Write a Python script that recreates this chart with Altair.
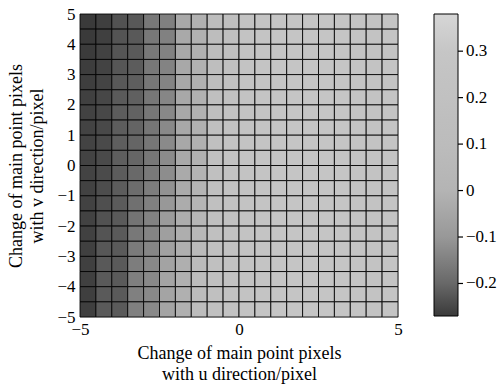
import altair as alt
import pandas as pd

# Grid edges (u: horizontal, v: vertical), 20 x 20 cells of 0.5 pixel
u_edges = [-5.0, -4.5, -4.0, -3.5, -3.0, -2.5, -2.0, -1.5, -1.0, -0.5, 0.0,
           0.5, 1.0, 1.5, 2.0, 2.5, 3.0, 3.5, 4.0, 4.5, 5.0]
v_edges = [5.0, 4.5, 4.0, 3.5, 3.0, 2.5, 2.0, 1.5, 1.0, 0.5, 0.0,
           -0.5, -1.0, -1.5, -2.0, -2.5, -3.0, -3.5, -4.0, -4.5, -5.0]

# Cell values, rows from top (v=5) to bottom (v=-5); first 10 columns read per row
left_cols = [
    [-0.270, -0.262, -0.232, -0.224, -0.165, -0.150, -0.040, -0.012, 0.12, 0.17],
    [-0.270, -0.260, -0.230, -0.222, -0.165, -0.148, -0.040, -0.012, 0.12, 0.17],
    [-0.268, -0.258, -0.228, -0.220, -0.166, -0.146, -0.041, -0.012, 0.13, 0.18],
    [-0.266, -0.256, -0.226, -0.218, -0.166, -0.143, -0.041, -0.011, 0.14, 0.19],
    [-0.264, -0.254, -0.223, -0.215, -0.167, -0.140, -0.042, -0.011, 0.15, 0.20],
    [-0.260, -0.250, -0.220, -0.212, -0.168, -0.136, -0.042, -0.010, 0.16, 0.21],
    [-0.258, -0.248, -0.218, -0.209, -0.169, -0.133, -0.043, -0.010, 0.17, 0.22],
    [-0.256, -0.246, -0.216, -0.206, -0.170, -0.130, -0.043, -0.010, 0.18, 0.23],
    [-0.255, -0.245, -0.215, -0.205, -0.170, -0.129, -0.043, -0.010, 0.18, 0.24],
    [-0.255, -0.245, -0.215, -0.203, -0.168, -0.127, -0.040, -0.010, 0.18, 0.24],
    [-0.256, -0.243, -0.217, -0.198, -0.163, -0.122, -0.036, -0.005, 0.18, 0.24],
    [-0.257, -0.240, -0.218, -0.190, -0.156, -0.112, -0.032, 0.000, 0.18, 0.24],
    [-0.258, -0.237, -0.219, -0.182, -0.150, -0.100, -0.028, 0.010, 0.18, 0.23],
    [-0.258, -0.233, -0.220, -0.174, -0.145, -0.088, -0.024, 0.030, 0.18, 0.23],
    [-0.259, -0.229, -0.220, -0.166, -0.140, -0.076, -0.020, 0.050, 0.18, 0.22],
    [-0.260, -0.225, -0.221, -0.160, -0.136, -0.066, -0.018, 0.070, 0.18, 0.22],
    [-0.260, -0.222, -0.221, -0.155, -0.133, -0.060, -0.016, 0.085, 0.18, 0.22],
    [-0.261, -0.221, -0.221, -0.152, -0.131, -0.057, -0.015, 0.095, 0.18, 0.22],
    [-0.262, -0.220, -0.221, -0.150, -0.130, -0.055, -0.015, 0.100, 0.18, 0.22],
    [-0.262, -0.220, -0.221, -0.150, -0.130, -0.055, -0.015, 0.100, 0.18, 0.22],
]
# right 10 columns (u from 0 to 5), nearly uniform light
right_cols = [0.24, 0.27, 0.28, 0.29, 0.29, 0.29, 0.28, 0.27, 0.24, 0.27]

# colour scale stops
cbar_domain = [-0.27, -0.2, -0.1, 0.0, 0.1, 0.2, 0.3, 0.38]
cbar_range = ["#3a3a3a", "#686868", "#989898", "#b4b4b4",
              "#bcbcbc", "#c1c1c1", "#c6c6c6", "#d6d6d6"]
cbar_ticks = [-0.2, -0.1, 0.0, 0.1, 0.2, 0.3]

rows = []
for r, left in enumerate(left_cols):
    vals = left + right_cols
    for c, val in enumerate(vals):
        rows.append({
            "u0": u_edges[c], "u1": u_edges[c + 1],
            "v0": v_edges[r + 1], "v1": v_edges[r],
            "val": val,
        })
df = pd.DataFrame(rows)
ticks_df = pd.DataFrame({"t": cbar_ticks})

FONT = "Times New Roman, Liberation Serif, serif"

cells = alt.Chart(df).mark_rect(stroke="black", strokeWidth=1, strokeOpacity=0.85).encode(
    x=alt.X("u0:Q",
            scale=alt.Scale(domain=[-5, 5], nice=False, zero=False),
            axis=alt.Axis(values=[-5, 0, 5], format="d",
                          title=["Change of main point pixels", "with u direction/pixel"],
                          titleFont=FONT, titleFontSize=18, titleFontWeight="normal",
                          titleColor="black", titlePadding=7, titleLineHeight=21,
                          labelFont=FONT, labelFontSize=17, labelColor="black",
                          labelPadding=4, ticks=False, grid=False, domain=False,
                          labelFlush=False)),
    x2="u1:Q",
    y=alt.Y("v0:Q",
            scale=alt.Scale(domain=[-5, 5], nice=False, zero=False),
            axis=alt.Axis(values=[-5, -4, -3, -2, -1, 0, 1, 2, 3, 4, 5], format="d",
                          title=["Change of main point pixels", "with v direction/pixel"],
                          titleFont=FONT, titleFontSize=18, titleFontWeight="normal",
                          titleColor="black", titlePadding=10, titleLineHeight=21,
                          labelFont=FONT, labelFontSize=17, labelColor="black",
                          labelPadding=5, ticks=False, grid=False, domain=False,
                          labelFlush=False)),
    y2="v1:Q",
    color=alt.Color("val:Q",
                    scale=alt.Scale(domain=cbar_domain, range=cbar_range),
                    legend=alt.Legend(title=None, orient="none", legendX=354, legendY=0,
                                      direction="vertical", gradientLength=302,
                                      gradientThickness=24, gradientStrokeColor="black",
                                      gradientStrokeWidth=1, values=cbar_ticks,
                                      format=".1~f",
                                      labelFont=FONT, labelFontSize=17, labelColor="black",
                                      labelOffset=8)),
)

cbar_tick_marks = alt.Chart(ticks_df).mark_rule(color="black", strokeWidth=1.2,
                                                clip=False).encode(
    y=alt.Y("t:Q", scale=alt.Scale(domain=[cbar_domain[0], cbar_domain[-1]],
                                   range=[302, 0], nice=False, zero=False),
            axis=None),
    x=alt.value(378),
    x2=alt.value(383),
)

chart = alt.layer(cells, cbar_tick_marks).resolve_scale(y="independent").properties(
    width=318, height=303,
    autosize=alt.AutoSizeParams(type="none"),
    padding={"left": 80, "top": 14, "right": 100, "bottom": 70},
).configure_view(stroke="black", strokeWidth=1.5).configure(background="white")

chart.save("out.html", embed_options={"renderer": "svg", "actions": False})
